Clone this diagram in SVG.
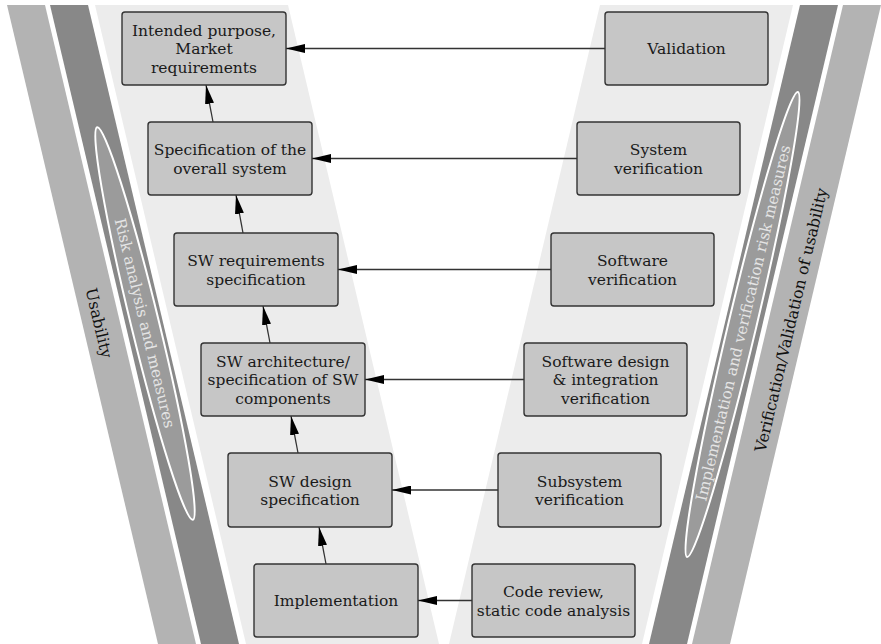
<svg xmlns="http://www.w3.org/2000/svg" width="881" height="644" viewBox="0 0 881 644">
  <style>
    .band-light { fill: #b3b3b3; }
    .band-dark { fill: #888888; }
    .zone { fill: #ececec; }
    .oval { fill: #9b9b9b; stroke: #ffffff; stroke-width: 2; }
    .box { fill: #c6c6c6; stroke: #333333; stroke-width: 1.4; }
    .lbl { font-family: "DejaVu Serif", "Liberation Serif", serif; font-size: 15.5px; fill: #1a1a1a; text-anchor: middle; }
    .side { font-family: "DejaVu Serif", "Liberation Serif", serif; font-size: 15.8px; fill: #111111; text-anchor: middle; }
    .oval-text { font-family: "DejaVu Serif", "Liberation Serif", serif; font-size: 15.4px; fill: #e4e4e4; text-anchor: middle; }
    .link { stroke: #333333; stroke-width: 1.3; fill: none; marker-end: url(#head); }
  </style>
  <defs>
    <marker id="head" viewBox="0 0 19 9" refX="19" refY="4.5" markerWidth="19" markerHeight="9" markerUnits="userSpaceOnUse" orient="auto">
      <path d="M0,0 L19,4.5 L0,9 z" fill="#000000"/>
    </marker>
  </defs>

  <!-- V-shaped background bands -->
  <g id="background">
    <polygon class="band-light" points="7,5 45,5 196,644 158,644"/>
    <polygon class="band-dark" points="50,5 88,5 239,644 201,644"/>
    <polygon class="zone" points="95,5 288,5 439,644 246,644"/>
    <polygon class="zone" points="600,5 793,5 642,644 449,644"/>
    <polygon class="band-dark" points="800,5 838,5 687,644 649,644"/>
    <polygon class="band-light" points="843,5 881,5 730,644 692,644"/>
  </g>

  <!-- side labels along the bands -->
  <g id="usability-left">
    <text class="side" transform="translate(99,323) rotate(76.7)" x="0" y="5.5">Usability</text>
  </g>
  <g id="risk-analysis">
    <ellipse class="oval" cx="0" cy="0" rx="202" ry="14" transform="translate(145,323.5) rotate(76.3)"/>
    <text class="oval-text" transform="translate(145,323) rotate(76.5)" x="0" y="5.5">Risk analysis and measures</text>
  </g>
  <g id="risk-verification">
    <ellipse class="oval" cx="0" cy="0" rx="239" ry="14" transform="translate(742.5,324.5) rotate(-76.6)"/>
    <text class="oval-text" transform="translate(743,323) rotate(-76.6)" x="0" y="5.5">Implementation and verification risk measures</text>
  </g>
  <g id="usability-right">
    <text class="side" transform="translate(791,320) rotate(-76.7)" x="0" y="5.5">Verification/Validation of usability</text>
  </g>

  <!-- connectors -->
  <g id="connectors">
    <line class="link" x1="605" y1="48.5" x2="286" y2="48.5"/>
    <line class="link" x1="577" y1="158.5" x2="312" y2="158.5"/>
    <line class="link" x1="551" y1="269.5" x2="338" y2="269.5"/>
    <line class="link" x1="524" y1="379.5" x2="365" y2="379.5"/>
    <line class="link" x1="498" y1="490" x2="392" y2="490"/>
    <line class="link" x1="472" y1="600.5" x2="418" y2="600.5"/>
    <line class="link" x1="213" y1="122" x2="206" y2="85"/>
    <line class="link" x1="243" y1="233" x2="236" y2="195"/>
    <line class="link" x1="270" y1="343" x2="263" y2="306"/>
    <line class="link" x1="298" y1="453" x2="291" y2="416"/>
    <line class="link" x1="326" y1="564" x2="319" y2="527"/>
  </g>

  <!-- left column: specification steps -->
  <g id="intended-purpose">
    <rect class="box" x="122" y="12" width="164" height="73" rx="3"/>
    <text class="lbl"><tspan x="204" y="35.5">Intended purpose,</tspan><tspan x="204" y="54">Market</tspan><tspan x="204" y="72.5">requirements</tspan></text>
  </g>
  <g id="system-spec">
    <rect class="box" x="148" y="122" width="164" height="73" rx="3"/>
    <text class="lbl"><tspan x="230" y="155">Specification of the</tspan><tspan x="230" y="173.5">overall system</tspan></text>
  </g>
  <g id="sw-requirements">
    <rect class="box" x="174" y="233" width="164" height="73" rx="3"/>
    <text class="lbl"><tspan x="256" y="266">SW requirements</tspan><tspan x="256" y="284.5">specification</tspan></text>
  </g>
  <g id="sw-architecture">
    <rect class="box" x="201" y="343" width="164" height="73" rx="3"/>
    <text class="lbl"><tspan x="283" y="366.5">SW architecture/</tspan><tspan x="283" y="385">specification of SW</tspan><tspan x="283" y="403.5">components</tspan></text>
  </g>
  <g id="sw-design">
    <rect class="box" x="228" y="453" width="164" height="74" rx="3"/>
    <text class="lbl"><tspan x="310" y="486.5">SW design</tspan><tspan x="310" y="505">specification</tspan></text>
  </g>
  <g id="implementation">
    <rect class="box" x="254" y="564" width="164" height="73" rx="3"/>
    <text class="lbl"><tspan x="336" y="606">Implementation</tspan></text>
  </g>

  <!-- right column: verification steps -->
  <g id="validation">
    <rect class="box" x="605" y="12" width="163" height="73" rx="3"/>
    <text class="lbl"><tspan x="686.5" y="54">Validation</tspan></text>
  </g>
  <g id="system-verification">
    <rect class="box" x="577" y="122" width="163" height="73" rx="3"/>
    <text class="lbl"><tspan x="658.5" y="155">System</tspan><tspan x="658.5" y="173.5">verification</tspan></text>
  </g>
  <g id="software-verification">
    <rect class="box" x="551" y="233" width="163" height="73" rx="3"/>
    <text class="lbl"><tspan x="632.5" y="266">Software</tspan><tspan x="632.5" y="284.5">verification</tspan></text>
  </g>
  <g id="integration-verification">
    <rect class="box" x="524" y="343" width="163" height="73" rx="3"/>
    <text class="lbl"><tspan x="605.5" y="366.5">Software design</tspan><tspan x="605.5" y="385">&amp; integration</tspan><tspan x="605.5" y="403.5">verification</tspan></text>
  </g>
  <g id="subsystem-verification">
    <rect class="box" x="498" y="453" width="163" height="74" rx="3"/>
    <text class="lbl"><tspan x="579.5" y="486.5">Subsystem</tspan><tspan x="579.5" y="505">verification</tspan></text>
  </g>
  <g id="code-review">
    <rect class="box" x="472" y="564" width="163" height="73" rx="3"/>
    <text class="lbl"><tspan x="553.5" y="597">Code review,</tspan><tspan x="553.5" y="615.5">static code analysis</tspan></text>
  </g>
</svg>
